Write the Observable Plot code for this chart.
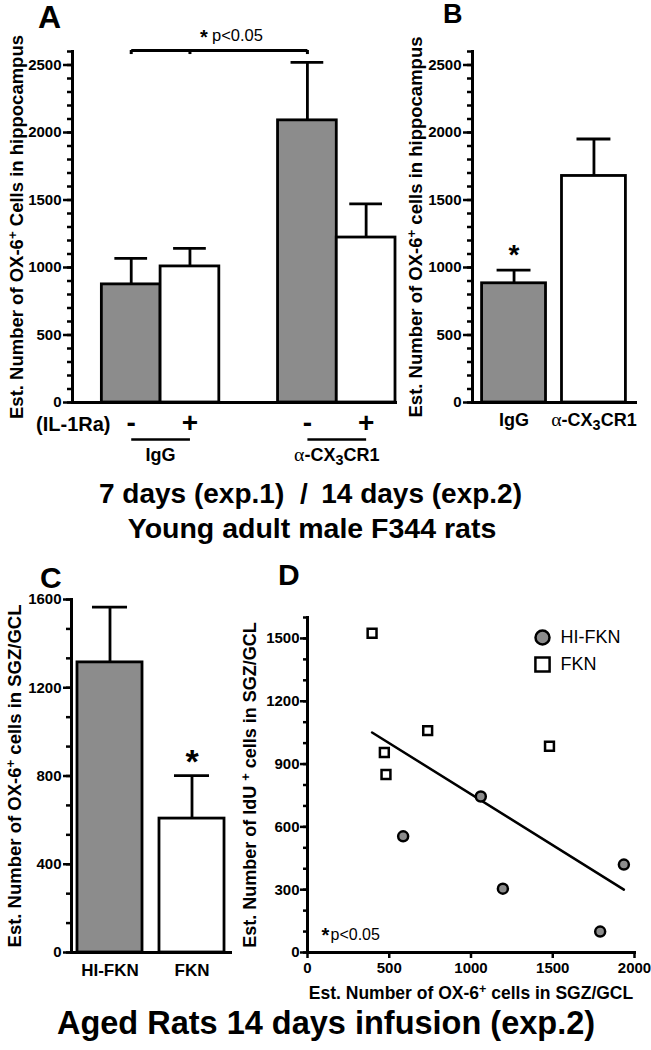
<!DOCTYPE html>
<html>
<head>
<meta charset="utf-8">
<script src="https://cdn.jsdelivr.net/npm/d3@7"></script>
<script src="https://cdn.jsdelivr.net/npm/@observablehq/plot@0.6"></script>
<style>
  html, body { margin: 0; padding: 0; background: #fff; }
  #root { position: relative; width: 651px; height: 1050px; overflow: hidden; font-family: "Liberation Sans", Arial, Helvetica, sans-serif; }
  #root > svg, #root > figure { position: absolute; margin: 0; }
</style>
</head>
<body>
<div id="root"></div>
<script>
// ---------------- DATA ----------------
// Panel A: 7 days (exp.1), hippocampus
const aGroup = ["IgG", "IgG", "α-CX3CR1", "α-CX3CR1"];
const aIL1Ra = ["-", "+", "-", "+"];
const aMean = [875, 1008, 2090, 1222];
const aSem = [192, 133, 430, 250];
const aYTicks = [0, 500, 1000, 1500, 2000, 2500];

// Panel B: 14 days (exp.2), hippocampus
const bGroup = ["IgG", "α-CX3CR1"];
const bMean = [883, 1678];
const bSem = [97, 274];
const bYTicks = [0, 500, 1000, 1500, 2000, 2500];

// Panel C: aged rats, SGZ/GCL
const cGroup = ["HI-FKN", "FKN"];
const cMean = [1315, 607];
const cSem = [250, 195];
const cYTicks = [0, 400, 800, 1200, 1600];

// Panel D: scatter OX-6+ vs IdU+
const dSeries = ["HI-FKN", "FKN"];
const dHiX = [585, 1060, 1195, 1790, 1935];
const dHiY = [555, 745, 305, 100, 420];
const dFknX = [395, 735, 470, 480, 1480];
const dFknY = [1525, 1060, 955, 850, 985];
const dXTicks = [0, 500, 1000, 1500, 2000];
const dYTicks = [0, 300, 600, 900, 1200, 1500];

// Texts
const aYTitle = "Est. Number of OX-6^{+} Cells in hippocampus";
const bYTitle = "Est. Number of OX-6^{+} cells in hippocampus";
const cYTitle = "Est. Number of OX-6^{+} cells in SGZ/GCL";
const dYTitle = "Est. Number of IdU ^{+} cells in SGZ/GCL";
const dXTitle = "Est. Number of OX-6^{+} cells in SGZ/GCL";
const ilLabel = "(IL-1Ra)";
const sigLabel = "p<0.05";
const title1a = "7 days (exp.1)";
const title1sep = "/";
const title1b = "14 days (exp.2)";
const title2 = "Young adult male F344 rats";
const title3 = "Aged Rats 14 days infusion (exp.2)";

// ---------------- STYLE ----------------
const GRAY = "#8c8c8c";
const FONT = "'Liberation Sans', Arial, Helvetica, sans-serif";
const SW = 2.8;
const baseStyle = {fontFamily: FONT, fontSize: "15px", fontWeight: "bold", color: "black", background: "transparent", overflow: "visible"};
const markup = (s) => s === "α-CX3CR1" ? "~{α}-CX_{3}CR1" : s;
const num = (d) => String(d);

const root = document.getElementById("root");
function place(el, left, top) { el.style.left = left + "px"; el.style.top = top + "px"; root.appendChild(el); return el; }

// Rich text: ^{sup}, _{sub}, ~{serif}
const SVGNS = "http://www.w3.org/2000/svg";
function enrich(svg) {
  svg.querySelectorAll("text").forEach(el => {
    const s = el.textContent;
    if (!/[\^_~]\{/.test(s) || el.querySelector("tspan")) return;
    el.textContent = "";
    const re = /([\^_~])\{([^}]*)\}|([^\^_~]+)/g;
    let m;
    while ((m = re.exec(s))) {
      const t = document.createElementNS(SVGNS, "tspan");
      if (m[3] !== undefined) { t.textContent = m[3]; }
      else {
        t.textContent = m[2];
        if (m[1] === "^") { t.setAttribute("baseline-shift", "45%"); t.setAttribute("font-size", "0.72em"); }
        if (m[1] === "_") { t.setAttribute("baseline-shift", "-30%"); t.setAttribute("font-size", "0.8em"); }
        if (m[1] === "~") { t.setAttribute("font-family", "'Liberation Serif', 'Times New Roman', serif"); t.setAttribute("font-weight", "normal"); t.setAttribute("font-size", "1.1em"); }
      }
      el.appendChild(t);
    }
  });
  return svg;
}

const yTitle = (t, dx, fs) => Plot.text([t], {frameAnchor: "left", rotate: -90, dx, textAnchor: "middle", lineAnchor: "middle", fontSize: fs, fontWeight: "bold"});

// ---------------- PANEL A ----------------
{
  const data = aGroup.map((g, i) => ({key: g + " " + aIL1Ra[i], group: g, il: aIL1Ra[i], mean: aMean[i], sem: aSem[i]}));
  const keys = data.map(d => d.key);
  const domain = [keys[0], keys[1], " ", keys[2], keys[3]];
  const W = 400, ML = 72, MR = 5;
  const step = (W - ML - MR) / 5.5;
  const groups = Array.from(new Set(aGroup)).map(g => ({group: g, k1: data.find(d => d.group === g && d.il === "-").key, k2: data.find(d => d.group === g && d.il === "+").key}));
  const yMax = 2600;
  const svg = Plot.plot({
    width: W, height: 470, marginTop: 51, marginBottom: 68, marginLeft: ML, marginRight: MR,
    x: {type: "band", domain, paddingInner: 0, paddingOuter: 0.25, align: 1, round: false, axis: null},
    y: {domain: [0, yMax], axis: null, label: null},
    style: baseStyle,
    marks: [
      Plot.barY(data, {x: "key", y: "mean", fill: d => d.il === "-" ? GRAY : "white", stroke: "black", strokeWidth: SW}),
      Plot.ruleX(data, {x: "key", y1: "mean", y2: d => d.mean + d.sem, strokeWidth: SW}),
      Plot.tickY(data, {x: "key", y: d => d.mean + d.sem, insetLeft: 13, insetRight: 13, strokeWidth: SW}),
      Plot.axisY(d3.range(0, yMax + 1, 100), {tickSize: 5, tickFormat: () => "", strokeWidth: 2.5, label: null}),
      Plot.axisY(aYTicks, {tickSize: 9, tickPadding: 2, tickFormat: num, fontSize: 15, fontWeight: "bold", strokeWidth: 2.5, label: null}),
      Plot.frame({anchor: "left", strokeWidth: 3}),
      Plot.frame({anchor: "bottom", strokeWidth: 3}),
      yTitle(aYTitle, -55, 18.5),
      // -/+ row
      Plot.text(data, {x: "key", y: 0, text: "il", dy: 21, lineAnchor: "middle", fontSize: 28, fontWeight: "bold"}),
      Plot.text([ilLabel], {frameAnchor: "bottom-left", textAnchor: "end", lineAnchor: "middle", dx: 38, dy: 22, fontSize: 20, fontWeight: "bold"}),
      Plot.link(groups, {x1: "k1", x2: "k2", y1: 0, y2: 0, dy: 37, strokeWidth: 2.5}),
      Plot.text(groups, {x: "k1", y: 0, dx: step / 2, dy: 53, text: g => markup(g.group), lineAnchor: "middle", fontSize: 18, fontWeight: "bold"}),
      // significance bracket
      Plot.link([0], {x1: () => keys[0], x2: () => keys[2], y1: yMax, y2: yMax, dy: -1, strokeWidth: 3}),
      Plot.ruleX([keys[0], keys[1], keys[2]], {y1: yMax, y2: yMax - 30, dy: -1, strokeWidth: 3}),
      Plot.text(["*"], {x: () => keys[1], y: yMax, dx: 14, dy: -14, lineAnchor: "middle", fontSize: 20, fontWeight: "bold"}),
      Plot.text([sigLabel], {x: () => keys[1], y: yMax, dx: 22, dy: -16, textAnchor: "start", lineAnchor: "middle", fontSize: 16.5, fontWeight: "normal"})
    ]
  });
  place(enrich(svg), 0, 0);
}

// ---------------- PANEL B ----------------
{
  const data = bGroup.map((g, i) => ({group: g, mean: bMean[i], sem: bSem[i], i}));
  const svg = Plot.plot({
    width: 251, height: 470, marginTop: 51, marginBottom: 68, marginLeft: 72, marginRight: 16,
    x: {type: "band", domain: bGroup, paddingInner: 0.2, paddingOuter: 0.12, round: false, axis: null},
    y: {domain: [0, 2600], axis: null, label: null},
    style: baseStyle,
    marks: [
      Plot.barY(data, {x: "group", y: "mean", fill: d => d.i === 0 ? GRAY : "white", stroke: "black", strokeWidth: SW}),
      Plot.ruleX(data, {x: "group", y1: "mean", y2: d => d.mean + d.sem, strokeWidth: SW}),
      Plot.tickY(data, {x: "group", y: d => d.mean + d.sem, insetLeft: 15, insetRight: 15, strokeWidth: SW}),
      Plot.axisY(d3.range(0, 2601, 100), {tickSize: 5, tickFormat: () => "", strokeWidth: 2.5, label: null}),
      Plot.axisY(bYTicks, {tickSize: 9, tickPadding: 2, tickFormat: num, fontSize: 15, fontWeight: "bold", strokeWidth: 2.5, label: null}),
      Plot.axisX(bGroup, {tickSize: 0, tickPadding: 11, tickFormat: markup, fontSize: 18, fontWeight: "bold", label: null}),
      Plot.frame({anchor: "left", strokeWidth: 3}),
      Plot.frame({anchor: "bottom", strokeWidth: 3}),
      yTitle(bYTitle, -56, 18.5),
      Plot.text([data[0]], {x: "group", y: d => d.mean + d.sem, text: () => "*", dy: -15, lineAnchor: "middle", fontSize: 28, fontWeight: "bold"})
    ]
  });
  place(enrich(svg), 400, 0);
}

// ---------------- PANEL C ----------------
{
  const data = cGroup.map((g, i) => ({group: g, mean: cMean[i], sem: cSem[i], i}));
  const svg = Plot.plot({
    width: 232, height: 460, marginTop: 39, marginBottom: 68, marginLeft: 71, marginRight: 2,
    x: {type: "band", domain: cGroup, paddingInner: 0.207, paddingOuter: 0.073, round: false, axis: null},
    y: {domain: [0, 1600], axis: null, label: null},
    style: baseStyle,
    marks: [
      Plot.barY(data, {x: "group", y: "mean", fill: d => d.i === 0 ? GRAY : "white", stroke: "black", strokeWidth: SW}),
      Plot.ruleX(data, {x: "group", y1: "mean", y2: d => d.mean + d.sem, strokeWidth: SW}),
      Plot.tickY(data, {x: "group", y: d => d.mean + d.sem, insetLeft: 15, insetRight: 15, strokeWidth: SW}),
      Plot.axisY(d3.range(0, 1601, 400 / 3), {tickSize: 5, tickFormat: () => "", strokeWidth: 2.5, label: null}),
      Plot.axisY(cYTicks, {tickSize: 8, tickPadding: 2, tickFormat: num, fontSize: 15, fontWeight: "bold", strokeWidth: 2.5, label: null}),
      Plot.axisX(cGroup, {tickSize: 0, tickPadding: 11, fontSize: 17, fontWeight: "bold", label: null}),
      Plot.frame({anchor: "left", strokeWidth: 3}),
      Plot.frame({anchor: "bottom", strokeWidth: 3}),
      yTitle(cYTitle, -56, 18.5),
      Plot.text([data[1]], {x: "group", y: d => d.mean + d.sem, text: () => "*", dy: -13, lineAnchor: "middle", fontSize: 34, fontWeight: "bold"})
    ]
  });
  place(enrich(svg), 0, 560);
}

// ---------------- PANEL D ----------------
{
  const hi = dHiX.map((x, i) => ({series: dSeries[0], x, y: dHiY[i]}));
  const fkn = dFknX.map((x, i) => ({series: dSeries[1], x, y: dFknY[i]}));
  const all = hi.concat(fkn);
  const svg = Plot.plot({
    width: 421, height: 460, marginTop: 57, marginBottom: 68, marginLeft: 77, marginRight: 17,
    x: {domain: [0, 2000], axis: null, label: null},
    y: {domain: [0, 1600], axis: null, label: null},
    style: baseStyle,
    marks: [
      Plot.linearRegressionY(all, {x: "x", y: "y", ci: 0, stroke: "black", strokeWidth: 2.5}),
      Plot.dot(hi, {x: "x", y: "y", r: 5, fill: GRAY, stroke: "black", strokeWidth: 2.5}),
      Plot.dot(fkn, {x: "x", y: "y", r: 5, symbol: "square", fill: "white", stroke: "black", strokeWidth: 2.5}),
      Plot.axisY(d3.range(0, 1601, 100), {tickSize: 4, tickFormat: () => "", strokeWidth: 2.5, label: null}),
      Plot.axisY(dYTicks, {tickSize: 7, tickPadding: 1, tickFormat: num, fontSize: 15, fontWeight: "bold", strokeWidth: 2.5, label: null}),
      Plot.axisX(dXTicks, {tickSize: 6, tickPadding: 4, tickFormat: num, fontSize: 15, fontWeight: "bold", strokeWidth: 2.5, label: null}),
      Plot.frame({anchor: "left", strokeWidth: 3}),
      Plot.frame({anchor: "bottom", strokeWidth: 3}),
      yTitle(dYTitle, -57, 18),
      Plot.text([dXTitle], {frameAnchor: "bottom", dy: 41, lineAnchor: "middle", fontSize: 17.5, fontWeight: "bold"}),
      // legend
      Plot.dot([dSeries[0]], {frameAnchor: "top-right", dx: -92, dy: 20, r: 7, fill: GRAY, stroke: "black", strokeWidth: 2.5}),
      Plot.dot([dSeries[1]], {frameAnchor: "top-right", dx: -92, dy: 47, r: 8, symbol: "square", fill: "white", stroke: "black", strokeWidth: 2.5}),
      Plot.text([dSeries[0]], {frameAnchor: "top-right", dx: -74, dy: 20, textAnchor: "start", lineAnchor: "middle", fontSize: 18, fontWeight: "normal"}),
      Plot.text([dSeries[1]], {frameAnchor: "top-right", dx: -74, dy: 47, textAnchor: "start", lineAnchor: "middle", fontSize: 18, fontWeight: "normal"}),
      // significance
      Plot.text(["*"], {frameAnchor: "bottom-left", dx: 18, dy: -17, textAnchor: "middle", lineAnchor: "middle", fontSize: 20, fontWeight: "bold"}),
      Plot.text([sigLabel], {frameAnchor: "bottom-left", dx: 23, dy: -18, textAnchor: "start", lineAnchor: "middle", fontSize: 16, fontWeight: "normal"})
    ]
  });
  place(enrich(svg), 230, 560);
}

// ---------------- TITLES / PANEL LETTERS ----------------
{
  const ov = d3.create("svg").attr("width", 651).attr("height", 1050)
    .style("pointer-events", "none").style("font-family", FONT).style("font-weight", "bold");
  const letters = [["A", 38, 28, 32], ["B", 443, 23, 27], ["C", 40, 588, 30], ["D", 278, 585, 30]];
  for (const [t, x, y, fs] of letters) ov.append("text").attr("x", x).attr("y", y).attr("font-size", fs).text(t);
  ov.append("text").attr("x", 99).attr("y", 503).attr("text-anchor", "start").attr("font-size", 28).text(title1a);
  ov.append("text").attr("x", 304).attr("y", 503).attr("text-anchor", "middle").attr("font-size", 28).text(title1sep);
  ov.append("text").attr("x", 522).attr("y", 503).attr("text-anchor", "end").attr("font-size", 28).text(title1b);
  ov.append("text").attr("x", 312).attr("y", 538).attr("text-anchor", "middle").attr("font-size", 28.5).text(title2);
  ov.append("text").attr("x", 326).attr("y", 1034).attr("text-anchor", "middle").attr("font-size", 32.5).text(title3);
  place(ov.node(), 0, 0);
}
</script>
</body>
</html>
